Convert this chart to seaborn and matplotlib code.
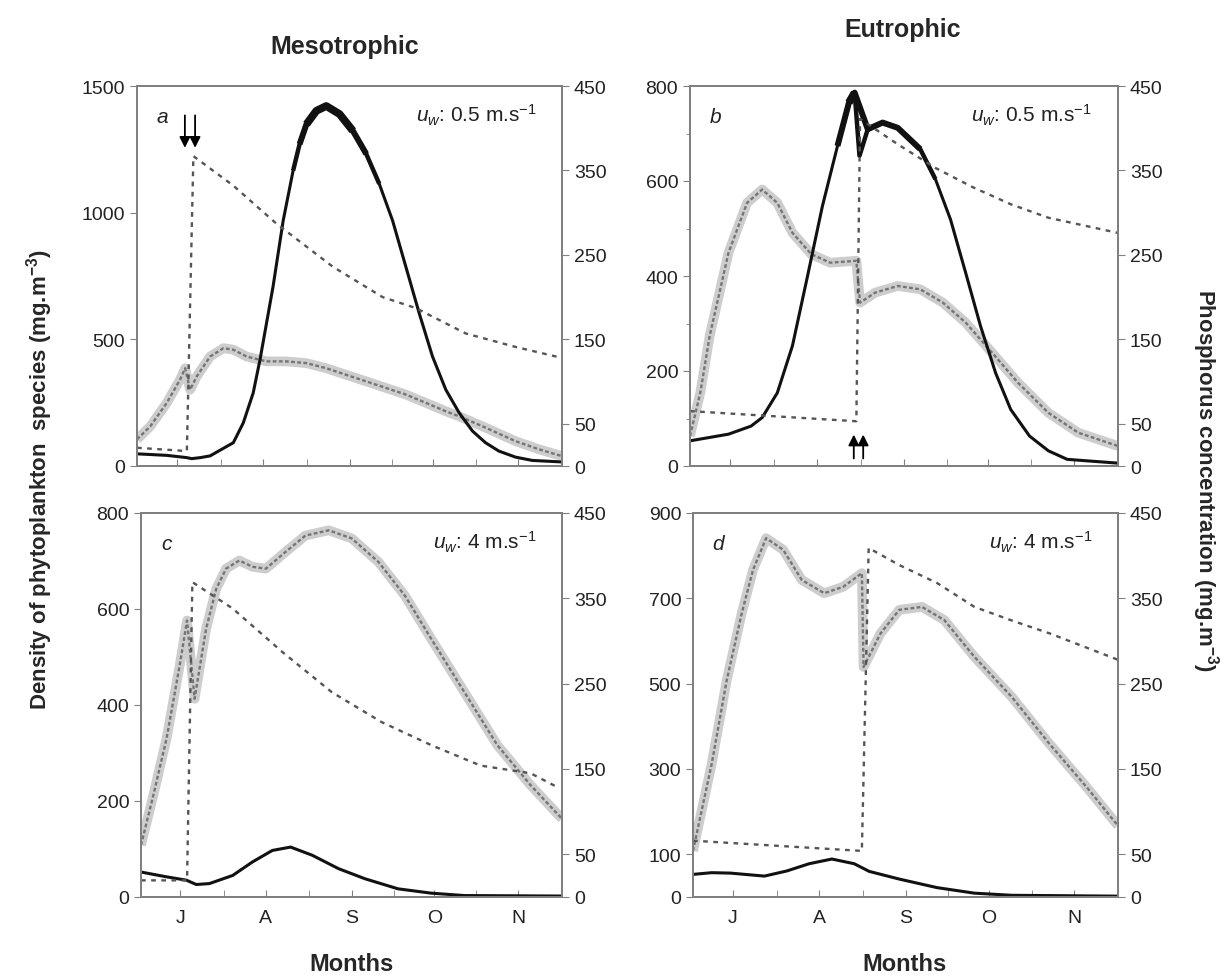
import matplotlib
matplotlib.use("Agg")
import matplotlib.pyplot as plt
import seaborn as sns
import pandas as pd

# Simulated phytoplankton densities and phosphorus, mesotrophic vs eutrophic lakes

sns.set_style("ticks")
plt.rcParams['font.family'] = ['Liberation Sans', 'DejaVu Sans']
plt.rcParams['mathtext.fontset'] = 'custom'
plt.rcParams['mathtext.rm'] = 'Liberation Sans'
plt.rcParams['mathtext.it'] = 'Liberation Sans:italic'
plt.rcParams['mathtext.bf'] = 'Liberation Sans:bold'

# x axis is days from the start of the run (mid June)
month_ticks = [14, 44.5, 75, 104.5, 134.5]
month_minor = [29.5, 60, 90, 119.5]
month_labels = ['J', 'A', 'S', 'O', 'N']

# ---- panel a : mesotrophic, u_w 0.5
a_black_day = [0, 10.5, 17.6, 19.3, 22.3, 25.8, 34, 37.5, 41, 43.4, 45.7, 48, 51.6, 55.1, 57.4, 59.8,
               63.3, 66.8, 71.5, 76.2, 80.9, 85.5, 90.2, 94.9, 99.6, 104.3, 109, 113.7, 118.4,
               123, 127.7, 133.6, 139.5, 150]
a_black = [48, 42, 33, 29, 33, 40, 92, 170, 288, 419, 563, 707, 969, 1166, 1271, 1349,
           1402, 1421, 1389, 1323, 1232, 1114, 969, 786, 603, 432, 301, 210, 138,
           92, 59, 35, 22, 16]
a_gray_day = [0, 4.7, 10.5, 15.2, 17, 18.75, 21.1, 25.8, 30.5, 34, 38.7, 45.7, 52.7, 59.8, 66.8,
              73.8, 80.9, 87.9, 94.9, 102, 109, 113.7, 121.9, 133.6, 141.8, 150]
a_gray = [105, 157, 249, 341, 386, 301, 354, 432, 465, 459, 432, 413, 413, 406, 386,
          360, 334, 308, 282, 249, 216, 196, 157, 98, 66, 39]
a_p_day = [0, 17.6, 19.9, 34, 49.2, 69.1, 86.7, 98.4, 116, 133.6, 150]
a_p = [21.6, 17.7, 367, 332, 287, 236, 200, 187, 157, 141, 128]

# ---- panel b : eutrophic, u_w 0.5
b_black_day = [0, 13.5, 21.4, 25.3, 30.6, 35.9, 41.2, 46.4, 51.7, 55.7, 57.7, 59.4, 62.3, 67.5,
               72.8, 80.7, 86, 91.3, 96.6, 101.8, 107.1, 112.4, 119, 125.6, 132.2, 150]
b_black = [53, 67, 84, 102, 154, 253, 400, 547, 674, 765, 786, 653, 709, 723,
           712, 667, 604, 519, 407, 295, 196, 119, 63, 32, 14, 6]
b_gray_day = [0, 3.6, 6.9, 13.5, 20, 25.3, 30.6, 35.9, 42.5, 49.1, 58.3, 59.6, 64.9, 72.8,
              80.7, 88.6, 96.6, 105.8, 115, 125.6, 136.1, 150]
b_gray = [63, 154, 274, 449, 554, 582, 554, 491, 446, 428, 432, 344, 365, 379,
          372, 344, 302, 239, 175, 112, 70, 42]
b_p_day = [0, 58.3, 59.6, 72.8, 86, 99.2, 112.4, 125.6, 150]
b_p = [65, 53, 411, 381, 353, 330, 310, 294, 276]

# ---- panel c : mesotrophic, u_w 4
c_black_day = [0, 9.1, 16.2, 19.7, 24.4, 32.7, 39.7, 46.8, 53.3, 61, 70.4, 79.8, 91.6, 103.4, 115.2, 150]
c_black = [52, 42, 35, 26, 28, 45, 73, 97, 104, 87, 59, 38, 17, 8, 3, 2]
c_gray_day = [0, 4.4, 9.1, 13.8, 16.4, 19.1, 23.2, 26.8, 30.3, 35, 39.7, 44.5, 51.5, 58.6, 66.9,
              75.1, 84.6, 94, 103.4, 115.2, 127, 138.8, 150]
c_gray = [108, 212, 330, 483, 576, 413, 559, 642, 684, 701, 688, 684, 719, 753, 764,
          747, 698, 628, 538, 427, 316, 233, 163]
c_p_day = [0, 16.4, 18.3, 32.7, 50.4, 68, 85.7, 103.4, 121, 138.8, 148.2]
c_p = [19.5, 19.5, 369, 338, 287, 240, 205, 178, 154, 145, 129]

# ---- panel d : eutrophic, u_w 4
d_black_day = [0, 6.6, 13.2, 25.2, 33.1, 41, 49, 56.9, 62.2, 72.8, 86.1, 99.3, 112.5, 150]
d_black = [53, 57, 56, 49, 61, 78, 89, 78, 60, 42, 22, 9, 4, 2]
d_gray_day = [0, 6.6, 11.9, 17.2, 21.2, 25.8, 31.8, 38.4, 46.3, 53, 59.6, 60.2, 66.2, 72.8,
              80.8, 88.7, 99.3, 112.5, 125.8, 139, 150]
d_gray = [108, 312, 508, 665, 767, 841, 814, 743, 712, 727, 759, 539, 618, 673,
          680, 649, 563, 469, 359, 257, 167]
d_p_day = [0, 59.6, 62, 72.8, 86.1, 99.3, 112.5, 125.8, 150]
d_p = [66, 54, 409, 389, 368, 340, 324, 309, 278]

SPINE = '#808080'
W, H = 1226, 979
fig = plt.figure(figsize=(W / 100, H / 100), dpi=100)


def box(l, t, r, b):
    return [l / W, 1 - b / H, (r - l) / W, (b - t) / H]


def panel(rect, black_day, black, gray_day, gray, p_day, p, ytop, yticks, yminor,
          tag, wind, months, thick):
    ax = fig.add_axes(rect)
    bl = pd.DataFrame({'day': black_day, 'val': black})
    gr = pd.DataFrame({'day': gray_day, 'val': gray})
    ph = pd.DataFrame({'day': p_day, 'val': p})

    # grey species: pale band with darker hatch on top
    sns.lineplot(data=gr, x='day', y='val', ax=ax, sort=False, estimator=None,
                 color='#cdcdcd', lw=7, solid_capstyle='butt')
    sns.lineplot(data=gr, x='day', y='val', ax=ax, sort=False, estimator=None,
                 color='#757575', lw=1.7, dashes=False, linestyle=(0, (1.6, 1.0)))
    # black species, band gets wider towards the bloom peak
    sns.lineplot(data=bl, x='day', y='val', ax=ax, sort=False, estimator=None,
                 color='#111111', lw=2.2)
    if thick:
        peak = bl['val'].max()
        for frac, lw in [(0.72, 3.2), (0.84, 4.3), (0.93, 5.6)]:
            part = bl[bl['val'] >= frac * peak]
            sns.lineplot(data=part, x='day', y='val', ax=ax, sort=False, estimator=None,
                         color='#111111', lw=lw, solid_capstyle='butt')

    ax.set_xlim(0, 150)
    ax.set_ylim(0, ytop)
    ax.set_yticks(yticks)
    ax.set_yticks(yminor, minor=True)
    ax.set_xticks(month_ticks)
    ax.set_xticks(month_minor, minor=True)
    if months:
        ax.set_xticklabels(month_labels)
    else:
        ax.set_xticklabels([])
    ax.set_xlabel('')
    ax.set_ylabel('')
    ax.tick_params(axis='x', which='both', direction='in', length=5, color=SPINE,
                   labelsize=14, pad=9, labelcolor='#222222')
    ax.tick_params(axis='y', which='major', direction='out', length=5, color=SPINE,
                   labelsize=14, labelcolor='#222222')
    ax.tick_params(axis='y', which='minor', direction='out', length=3, color=SPINE)

    ax2 = ax.twinx()
    sns.lineplot(data=ph, x='day', y='val', ax=ax2, sort=False, estimator=None,
                 color='#555555', lw=1.7, linestyle=(0, (2, 2.3)))
    ax2.set_ylim(0, 450)
    ax2.set_yticks([0, 50, 150, 250, 350, 450])
    ax2.set_ylabel('')
    ax2.tick_params(axis='y', direction='out', length=5, color=SPINE,
                    labelsize=14, labelcolor='#222222')
    for a in (ax, ax2):
        for s in a.spines.values():
            s.set_color(SPINE)
            s.set_linewidth(1.4)

    ax.text(0.06, 0.92, tag, transform=ax.transAxes, fontsize=15, style='italic',
            ha='center', va='center', color='#222222')
    ax.text(0.94, 0.925, r'$u_{w}$: ' + wind + r' m.s$^{-1}$', transform=ax.transAxes,
            fontsize=15, ha='right', va='center', color='#222222')
    return ax, ax2


ax_a, _ = panel(box(137, 87, 562, 467), a_black_day, a_black, a_gray_day, a_gray, a_p_day, a_p,
                1500, [0, 500, 1000, 1500], [], 'a', '0.5', False, True)
ax_b, _ = panel(box(690, 87, 1118, 467), b_black_day, b_black, b_gray_day, b_gray, b_p_day, b_p,
                800, [0, 200, 400, 600, 800], [100, 300, 500, 700], 'b', '0.5', False, True)
ax_c, _ = panel(box(141, 514, 562, 898), c_black_day, c_black, c_gray_day, c_gray, c_p_day, c_p,
                800, [0, 200, 400, 600, 800], [], 'c', '4', True, False)
ax_d, _ = panel(box(693, 514, 1118, 898), d_black_day, d_black, d_gray_day, d_gray, d_p_day, d_p,
                900, [0, 100, 300, 500, 700, 900], [], 'd', '4', True, False)

# nutrient pulse markers
arrow = dict(arrowstyle='-|>', color='black', lw=1.3, mutation_scale=16)
for x in (16.9, 20.5):
    ax_a.annotate('', xy=(x, 1245), xytext=(x, 1395), arrowprops=arrow)
for x in (57.4, 60.7):
    ax_b.annotate('', xy=(x, 72), xytext=(x, 10), arrowprops=arrow)

fig.text(345 / W, 1 - 47 / H, 'Mesotrophic', fontsize=18, fontweight='bold', ha='center', va='center')
fig.text(903 / W, 1 - 30 / H, 'Eutrophic', fontsize=18, fontweight='bold', ha='center', va='center')
fig.text(352 / W, 1 - 965 / H, 'Months', fontsize=17, fontweight='bold', ha='center', va='center')
fig.text(905 / W, 1 - 965 / H, 'Months', fontsize=17, fontweight='bold', ha='center', va='center')
fig.text(40 / W, 1 - 480 / H, r'Density of phytoplankton  species (mg.m$^{\mathbf{-3}}$)',
         fontsize=16, fontweight='bold', rotation=90, ha='center', va='center')
fig.text(1205 / W, 1 - 480 / H, r'Phosphorus concentration (mg.m$^{\mathbf{-3}}$)',
         fontsize=16, fontweight='bold', rotation=270, ha='center', va='center')

plt.savefig('out.png', dpi=100)
print("Saved: out.png")
